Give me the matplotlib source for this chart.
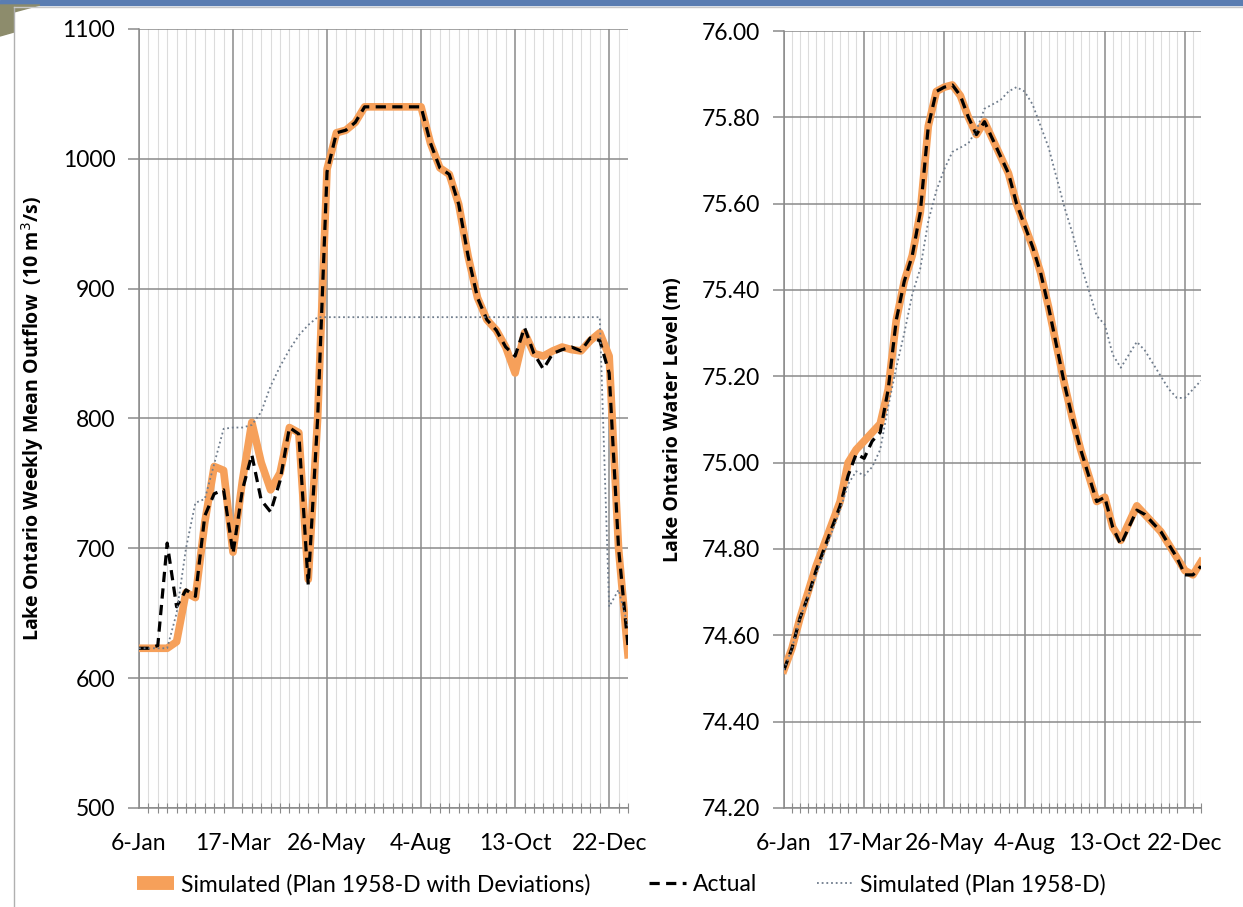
import matplotlib.pyplot as plt
import numpy as np
from matplotlib.lines import Line2D
from matplotlib.patches import Polygon, Rectangle

plt.rcParams["font.family"] = ["Lato", "DejaVu Sans"]

# weekly data, week 0 = 6-Jan
weeks = np.arange(53)
tick_weeks = [0, 10, 20, 30, 40, 50]
tick_labels = ["6-Jan", "17-Mar", "26-May", "4-Aug", "13-Oct", "22-Dec"]

# outflow (10 m3/s)
flow_sim_dev = [
    623, 623, 623, 623, 628, 666, 662, 720, 763, 760,
    697, 752, 797, 766, 745, 758, 793, 789, 676, 800,
    992, 1020, 1022, 1028, 1040, 1040, 1040, 1040, 1040, 1040,
    1040, 1012, 993, 988, 965, 925, 893, 876, 868, 855,
    835, 866, 850, 848, 852, 855, 853, 852, 860, 866,
    848, 700, 618,
]
flow_actual = [
    623, 623, 625, 704, 655, 668, 663, 725, 742, 745,
    696, 745, 772, 737, 728, 752, 793, 788, 672, 800,
    990, 1020, 1022, 1028, 1040, 1040, 1040, 1040, 1040, 1040,
    1040, 1012, 993, 988, 965, 925, 893, 876, 868, 855,
    848, 870, 850, 838, 850, 853, 855, 852, 862, 860,
    835, 700, 625,
]
flow_sim = [
    623, 623, 623, 623, 650, 700, 735, 738, 765, 792,
    793, 793, 795, 805, 825, 840, 853, 864, 872, 878,
    878, 878, 878, 878, 878, 878, 878, 878, 878, 878,
    878, 878, 878, 878, 878, 878, 878, 878, 878, 878,
    878, 878, 878, 878, 878, 878, 878, 878, 878, 878,
    655, 668, 640,
]

# water level (m)
level_sim_dev = [
    74.52, 74.57, 74.64, 74.70, 74.76, 74.81, 74.86, 74.91, 75.00, 75.03,
    75.05, 75.07, 75.09, 75.17, 75.33, 75.42, 75.48, 75.58, 75.78, 75.86,
    75.87, 75.875, 75.85, 75.80, 75.76, 75.79, 75.75, 75.71, 75.67, 75.60,
    75.55, 75.50, 75.44, 75.36, 75.27, 75.18, 75.10, 75.03, 74.97, 74.91,
    74.92, 74.85, 74.82, 74.86, 74.90, 74.88, 74.86, 74.84, 74.81, 74.78,
    74.75, 74.74, 74.77,
]
level_actual = [
    74.52, 74.57, 74.64, 74.69, 74.75, 74.80, 74.85, 74.90, 74.97, 75.02,
    75.01, 75.05, 75.07, 75.17, 75.33, 75.42, 75.48, 75.58, 75.78, 75.86,
    75.87, 75.875, 75.85, 75.80, 75.76, 75.79, 75.75, 75.71, 75.67, 75.60,
    75.55, 75.50, 75.44, 75.36, 75.27, 75.18, 75.10, 75.03, 74.97, 74.91,
    74.92, 74.85, 74.81, 74.85, 74.89, 74.88, 74.86, 74.84, 74.81, 74.78,
    74.74, 74.74, 74.76,
]
level_sim = [
    74.52, 74.57, 74.64, 74.69, 74.74, 74.79, 74.84, 74.89, 74.95, 74.98,
    74.97, 74.99, 75.03, 75.13, 75.22, 75.30, 75.39, 75.45, 75.56, 75.63,
    75.68, 75.72, 75.73, 75.74, 75.77, 75.82, 75.83, 75.84, 75.86, 75.87,
    75.86, 75.83, 75.78, 75.73, 75.66, 75.59, 75.53, 75.46, 75.40, 75.34,
    75.32, 75.25, 75.22, 75.25, 75.28, 75.26, 75.23, 75.20, 75.17, 75.15,
    75.15, 75.17, 75.19,
]

ORANGE = "#F6A05A"
GRID = "#8a8a8a"
MINOR = "#dcdcdc"
DOTTED = "#6f7c8c"


def style_axes(ax, yticks, fmt):

    ax.set_xlim(0, 52)
    ax.set_xticks(tick_weeks)
    ax.set_xticklabels(tick_labels, fontsize=16.5)
    ax.set_xticks(weeks, minor=True)

    ax.set_yticks(yticks)
    ax.set_yticklabels([fmt.format(v) for v in yticks], fontsize=16.5)
    ax.set_ylim(yticks[0], yticks[-1])

    ax.grid(True, which="major", color=GRID, linewidth=1.1)
    ax.grid(True, which="minor", axis="x", color=MINOR, linewidth=0.8)
    ax.set_axisbelow(True)

    for side in ["top", "right"]:
        ax.spines[side].set_visible(False)
    for side in ["left", "bottom"]:
        ax.spines[side].set_color(GRID)
        ax.spines[side].set_linewidth(1.1)

    ax.tick_params(axis="y", length=8, color=GRID, width=1.1, pad=9)
    ax.tick_params(axis="x", which="major", length=0, pad=18)
    ax.tick_params(axis="x", which="minor", direction="inout",
                   length=7, color=GRID, width=0.8)


fig = plt.figure(figsize=(12.43, 9.07), dpi=100)

ax1 = fig.add_axes([0.1118, 0.1092, 0.3934, 0.8589])
ax2 = fig.add_axes([0.6307, 0.1092, 0.3355, 0.8566])

for ax, sd, act, sim in [
    (ax1, flow_sim_dev, flow_actual, flow_sim),
    (ax2, level_sim_dev, level_actual, level_sim),
]:
    ax.plot(weeks, sd, color=ORANGE, linewidth=5.5,
            solid_joinstyle="round", zorder=3)
    ax.plot(weeks, act, color="black", linewidth=2.3,
            linestyle=(0, (3.2, 2.0)), zorder=4)
    ax.plot(weeks, sim, color=DOTTED, linewidth=1.3,
            linestyle=(0, (1, 1.6)), zorder=5)

style_axes(ax1, list(range(500, 1101, 100)), "{:d}")
style_axes(ax2, [round(74.2 + 0.2 * i, 2) for i in range(10)], "{:.2f}")

label_font = {"family": ["Open Sans", "DejaVu Sans"], "weight": "bold",
              "size": 14}
ax1.set_ylabel("Lake Ontario Weekly Mean Outflow  (10 m$^3$/s)",
               fontdict=label_font, labelpad=12)
ax2.set_ylabel("Lake Ontario Water Level (m)",
               fontdict=label_font, labelpad=14)

handles = [
    Line2D([], [], color=ORANGE, linewidth=10, solid_capstyle="butt"),
    Line2D([], [], color="black", linewidth=2.3, linestyle=(0, (3.2, 2.0))),
    Line2D([], [], color=DOTTED, linewidth=1.3, linestyle=(0, (1, 1.6))),
]
fig.legend(
    handles,
    ["Simulated (Plan 1958-D with Deviations)", "Actual",
     "Simulated (Plan 1958-D)"],
    loc="center",
    bbox_to_anchor=(0.5, 0.025),
    ncol=3,
    frameon=False,
    fontsize=16.5,
    handlelength=1.6,
    handletextpad=0.3,
    columnspacing=2.6,
)

# slide decorations: blue bar, frame line and the corner shape
W, H = 1243, 907
fig.patches.append(Rectangle((0, 1 - 5 / H), 1, 5 / H, transform=fig.transFigure,
                             color="#5a7db2", zorder=0))
fig.add_artist(Line2D([14 / W, 14 / W], [0, 1 - 7 / H], color="#b0b0b0",
                      linewidth=1, transform=fig.transFigure))
fig.add_artist(Line2D([14 / W, 1], [1 - 7 / H, 1 - 7 / H], color="#c8c8c8",
                      linewidth=1, transform=fig.transFigure))
fig.patches.append(Polygon(
    [(0, 1 - 5 / H), (40 / W, 1 - 5 / H), (14 / W, 1 - 12 / H),
     (14 / W, 1 - 32 / H), (0, 1 - 36 / H)],
    closed=True, transform=fig.transFigure, color="#8d8c6c", zorder=0))

fig.savefig("out.png", dpi=100)
